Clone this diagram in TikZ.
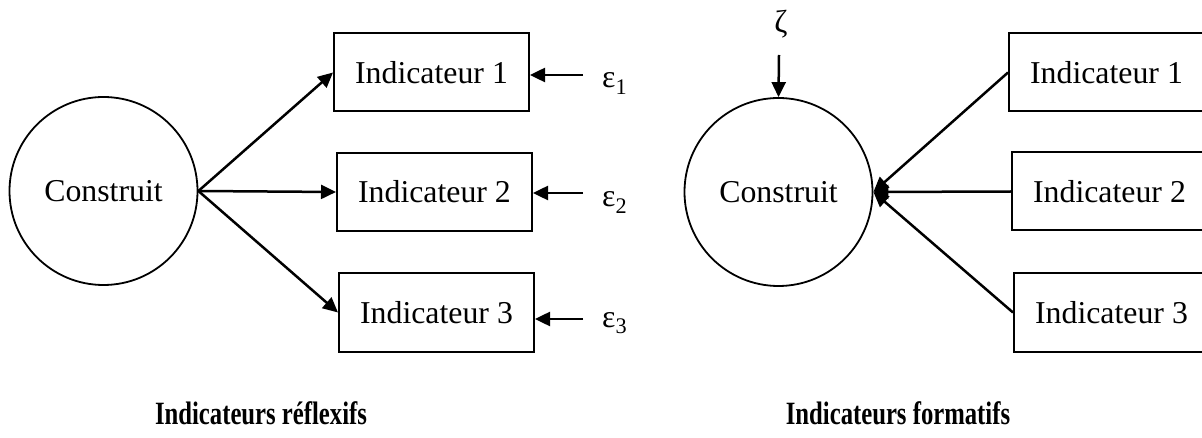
\documentclass[tikz,border=0pt]{standalone}
\usepackage{fontspec}
\setmainfont{Liberation Serif}
\newfontfamily\titlefont{Liberation Serif}[FakeStretch=0.76]
\usepackage{tikz}
\usetikzlibrary{arrows.meta}
\tikzset{
  cnode/.style={circle, draw, line width=1.8pt, minimum size=188pt, inner sep=0pt, font=\fontsize{31.8}{37}\selectfont},
  ibox/.style={rectangle, draw, line width=2pt, minimum width=195pt, minimum height=78pt, inner sep=0pt, font=\fontsize{31.8}{37}\selectfont},
  errlabel/.style={inner sep=0pt, font=\fontsize{31.8}{37}\selectfont},
  titlelabel/.style={inner sep=0pt, font=\titlefont\bfseries\fontsize{32.5}{38}\selectfont},
  iarrow/.style={-{Triangle[length=15pt,width=14pt]}, line width=2.5pt}
}

\begin{document}
\begin{tikzpicture}[x=1pt, y=-1pt]
\clip (0,0) rectangle (1202,438);
\node[cnode] (cL) at (103.5,191) {Construit};
\node[ibox] (bL1) at (431.5,72.5) {Indicateur 1};
\node[ibox] (bL2) at (434.5,192) {Indicateur 2};
\node[ibox] (bL3) at (436.5,312.5) {Indicateur 3};
\node[errlabel, anchor=base west] (e1) at (602,88) {ε\textsubscript{1}};
\node[errlabel, anchor=base west] (e2) at (602,207) {ε\textsubscript{2}};
\node[errlabel, anchor=base west] (e3) at (602,327) {ε\textsubscript{3}};
\coordinate (t1) at (583,75);
\coordinate (t2) at (583,193);
\coordinate (t3) at (583,319);
\draw[iarrow] (cL.east) -- (bL1.west);
\draw[iarrow] (cL.east) -- (bL2.west);
\draw[iarrow] (cL.east) -- (bL3.west);
\draw[iarrow] (t1) -- (bL1.east |- t1);
\draw[iarrow] (t2) -- (bL2.east |- t2);
\draw[iarrow] (t3) -- (bL3.east |- t3);
\node[titlelabel] (tL) at (261,413) {Indicateurs réflexifs};

\node[cnode] (cR) at (778.5,192) {Construit};
\node[errlabel] (z) at (781,24) {ζ};
\coordinate (tz) at (779,55);
\draw[iarrow] (tz) -- (cR.north);
\node[ibox] (bR1) at (1106.5,72.5) {Indicateur 1};
\node[ibox] (bR2) at (1109.5,191.5) {Indicateur 2};
\node[ibox] (bR3) at (1111.5,312.5) {Indicateur 3};
\draw[iarrow] (bR1.west) -- (cR.east);
\draw[iarrow] (bR2.west) -- (cR.east);
\draw[iarrow] (bR3.west) -- (cR.east);
\node[titlelabel] (tR) at (898,413) {Indicateurs formatifs};
\end{tikzpicture}
\end{document}
